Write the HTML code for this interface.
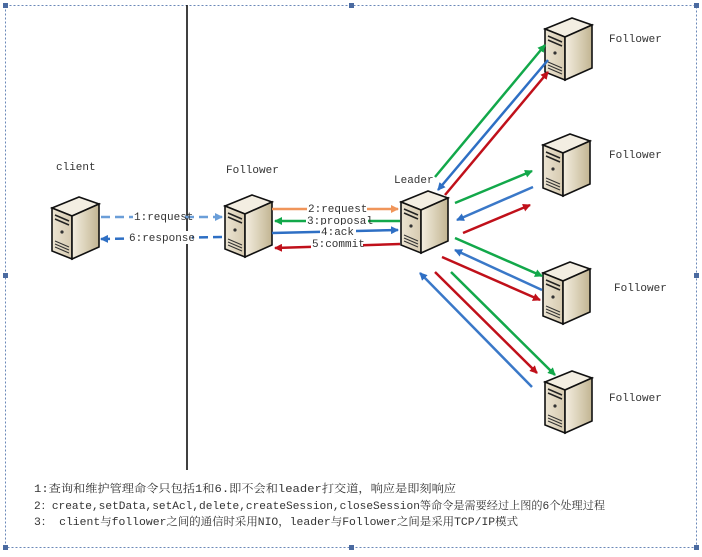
<!DOCTYPE html>
<html><head><meta charset="utf-8"><style>
body{margin:0;background:#fff;width:702px;height:552px;overflow:hidden}
svg text{font-family:"Liberation Mono","Noto Serif CJK SC",monospace;fill:#333}
</style></head><body>
<svg width="702" height="552" viewBox="0 0 702 552" xmlns="http://www.w3.org/2000/svg">
<defs>
<linearGradient id="rf" x1="0" x2="1"><stop offset="0" stop-color="#f4eee0"/><stop offset="1" stop-color="#c2b592"/></linearGradient>
<linearGradient id="ff" x1="0" x2="1"><stop offset="0" stop-color="#ece4d2"/><stop offset="1" stop-color="#d6cab0"/></linearGradient>
<g id="srv">
<polygon points="0,14 27,3 47,10 20,22" fill="#f3eee2" stroke="#111" stroke-width="1.6"/>
<polygon points="0,14 20,22 20,65 0,57" fill="url(#ff)" stroke="#111" stroke-width="1.6"/>
<polygon points="20,22 47,10 47,53 20,65" fill="url(#rf)" stroke="#111" stroke-width="1.6"/>
<line x1="3" y1="21" x2="17" y2="27" stroke="#222" stroke-width="1.5"/>
<line x1="3" y1="25" x2="17" y2="31" stroke="#222" stroke-width="1.5"/>
<circle cx="10" cy="38" r="1.6" fill="#333"/>
<line x1="3" y1="47" x2="17" y2="53" stroke="#333"/>
<line x1="3" y1="50" x2="17" y2="56" stroke="#333"/>
<line x1="3" y1="53" x2="17" y2="59" stroke="#333"/>
</g>
<marker id="ag" markerWidth="8" markerHeight="8" refX="7" refY="4" orient="auto" markerUnits="userSpaceOnUse" viewBox="0 0 8 8"><path d="M0,0 L8,4 L0,8 z" fill="#12a84a"/></marker>
<marker id="ab" markerWidth="8" markerHeight="8" refX="7" refY="4" orient="auto" markerUnits="userSpaceOnUse" viewBox="0 0 8 8"><path d="M0,0 L8,4 L0,8 z" fill="#2e6fc4"/></marker>
<marker id="ar" markerWidth="8" markerHeight="8" refX="7" refY="4" orient="auto" markerUnits="userSpaceOnUse" viewBox="0 0 8 8"><path d="M0,0 L8,4 L0,8 z" fill="#c0101a"/></marker>
<marker id="ao" markerWidth="8" markerHeight="8" refX="7" refY="4" orient="auto" markerUnits="userSpaceOnUse" viewBox="0 0 8 8"><path d="M0,0 L8,4 L0,8 z" fill="#f0955a"/></marker>
<marker id="al" markerWidth="8" markerHeight="8" refX="7" refY="4" orient="auto" markerUnits="userSpaceOnUse" viewBox="0 0 8 8"><path d="M0,0 L8,4 L0,8 z" fill="#6a9ed8"/></marker>
</defs>
<rect x="5.5" y="5.5" width="691" height="542" fill="none" stroke="#6b88b8" stroke-dasharray="2,2"/>
<g fill="#4a6aa0"><rect x="3" y="3" width="5" height="5"/><rect x="349" y="3" width="5" height="5"/><rect x="694" y="3" width="5" height="5"/><rect x="3" y="273" width="5" height="5"/><rect x="694" y="273" width="5" height="5"/><rect x="3" y="545" width="5" height="5"/><rect x="349" y="545" width="5" height="5"/><rect x="694" y="545" width="5" height="5"/></g>
<line x1="187" y1="5" x2="187" y2="470" stroke="#000" stroke-width="1.5"/>

<use href="#srv" x="52" y="194"/>
<use href="#srv" x="225" y="192"/>
<use href="#srv" x="401" y="188"/>
<use href="#srv" x="545" y="15"/>
<use href="#srv" x="543" y="131"/>
<use href="#srv" x="543" y="259"/>
<use href="#srv" x="545" y="368"/>

<g stroke-width="2.5" fill="none">
<line x1="101" y1="217" x2="222" y2="217" stroke="#6a9ed8" stroke-dasharray="9,5" marker-end="url(#al)"/>
<line x1="222" y1="237" x2="101" y2="239" stroke="#2e6fc4" stroke-dasharray="9,5" marker-end="url(#ab)"/>
<line x1="272" y1="209" x2="398" y2="209" stroke="#f0955a" marker-end="url(#ao)"/>
<line x1="400" y1="221" x2="275" y2="221" stroke="#12a84a" marker-end="url(#ag)"/>
<line x1="272" y1="233" x2="398" y2="230" stroke="#2e6fc4" marker-end="url(#ab)"/>
<line x1="400" y1="244" x2="275" y2="248" stroke="#c0101a" marker-end="url(#ar)"/>

<line x1="435" y1="177" x2="545" y2="45" stroke="#12a84a" marker-end="url(#ag)"/>
<line x1="548" y1="60" x2="438" y2="190" stroke="#2e6fc4" marker-end="url(#ab)"/>
<line x1="445" y1="195" x2="548" y2="72" stroke="#c0101a" marker-end="url(#ar)"/>

<line x1="455" y1="203" x2="532" y2="171" stroke="#12a84a" marker-end="url(#ag)"/>
<line x1="533" y1="187" x2="457" y2="220" stroke="#3a78c8" marker-end="url(#ab)"/>
<line x1="463" y1="233" x2="530" y2="205" stroke="#c0101a" marker-end="url(#ar)"/>

<line x1="455" y1="238" x2="542" y2="276" stroke="#12a84a" marker-end="url(#ag)"/>
<line x1="542" y1="290" x2="455" y2="250" stroke="#3a78c8" marker-end="url(#ab)"/>
<line x1="442" y1="257" x2="540" y2="300" stroke="#c0101a" marker-end="url(#ar)"/>

<line x1="532" y1="387" x2="420" y2="273" stroke="#3a78c8" marker-end="url(#ab)"/>
<line x1="435" y1="272" x2="537" y2="373" stroke="#c0101a" marker-end="url(#ar)"/>
<line x1="451" y1="272" x2="555" y2="375" stroke="#12a84a" marker-end="url(#ag)"/>
</g>

<g font-size="11">
<rect x="133" y="210" width="52" height="13" fill="#fff"/><text x="134" y="220">1:request</text>
<rect x="128" y="231" width="64" height="13" fill="#fff"/><text x="129" y="241">6:response</text>
<rect x="307" y="202" width="60" height="13" fill="#fff"/><text x="308" y="212">2:request</text>
<rect x="306" y="214" width="62" height="13" fill="#fff"/><text x="307" y="224">3:proposal</text>
<rect x="320" y="225" width="36" height="13" fill="#fff"/><text x="321" y="235">4:ack</text>
<rect x="311" y="237" width="52" height="13" fill="#fff"/><text x="312" y="247">5:commit</text>
<text x="56" y="170">client</text>
<text x="226" y="173">Follower</text>
<text x="394" y="183">Leader</text>
<text x="609" y="42">Follower</text>
<text x="609" y="158">Follower</text>
<text x="614" y="291">Follower</text>
<text x="609" y="401">Follower</text>
</g>
<g font-size="11">
<text x="34" y="492" textLength="422" lengthAdjust="spacingAndGlyphs">1:查询和维护管理命令只包括1和6.即不会和leader打交道，响应是即刻响应</text>
<text x="34" y="509" textLength="571" lengthAdjust="spacingAndGlyphs">2：create,setData,setAcl,delete,createSession,closeSession等命令是需要经过上图的6个处理过程</text>
<text x="34" y="525" textLength="484" lengthAdjust="spacingAndGlyphs">3： client与follower之间的通信时采用NIO，leader与Follower之间是采用TCP/IP模式</text>
</g>
</svg>
</body></html>
